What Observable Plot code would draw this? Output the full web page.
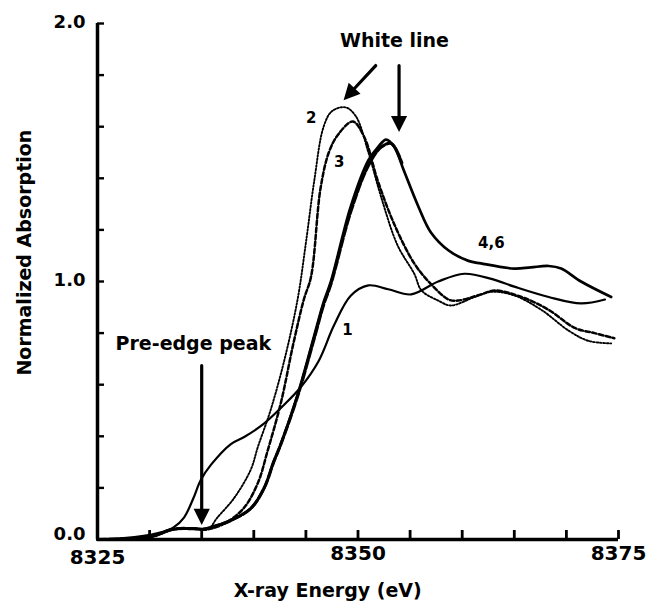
<!DOCTYPE html>
<html>
<head>
<meta charset="utf-8">
<script src="https://cdn.jsdelivr.net/npm/d3@7"></script>
<script src="https://cdn.jsdelivr.net/npm/@observablehq/plot@0.6"></script>
<style>
  html, body { margin: 0; padding: 0; background: #fff; }
</style>
</head>
<body>
<div id="chart"></div>
<script>
// ---- Axis ticks ----
const xMinorTicks = [8325, 8330, 8335, 8340, 8345, 8350, 8355, 8360, 8365, 8370, 8375];
const xTickLabels = [8325, 8350, 8375];
const yMinorTicks = [0.2, 0.4, 0.6, 0.8, 1.0, 1.2, 1.4, 1.6, 1.8, 2.0];
const yTickLabels = [0, 1, 2];
const xTitle = "X-ray Energy (eV)";
const yTitle = "Normalized Absorption";

// ---- Curve 1 (thin solid) ----
const e1 = [8325, 8327.5, 8330.8, 8332.3, 8333.3, 8334.2, 8334.9, 8335.9, 8337.8, 8339.2, 8341.0, 8342.6, 8344.5, 8346.2, 8347.7, 8349.3, 8351.0, 8352.9, 8355.1, 8357.7, 8360.2, 8362.8, 8365.0, 8368.3, 8371.4, 8373.7];
const a1 = [0.00, 0.005, 0.025, 0.047, 0.085, 0.16, 0.23, 0.29, 0.37, 0.40, 0.45, 0.51, 0.59, 0.69, 0.83, 0.945, 0.985, 0.97, 0.95, 1.0, 1.03, 1.01, 0.98, 0.94, 0.915, 0.93];

// ---- Curve 2 (dotted) ----
const e2 = [8325, 8330, 8331.5, 8332.3, 8334.2, 8335.6, 8336.5, 8338.1, 8339.7, 8340.4, 8341.6, 8342.9, 8344.2, 8345.0, 8345.8, 8346.7, 8347.5, 8348.8, 8349.8, 8351.0, 8352.2, 8353.8, 8355.4, 8356.1, 8357.7, 8358.9, 8361.2, 8362.8, 8365.0, 8367.6, 8370.2, 8372.1, 8374.3];
const a2 = [0.00, 0.01, 0.03, 0.04, 0.042, 0.04, 0.085, 0.16, 0.27, 0.36, 0.50, 0.69, 0.93, 1.15, 1.39, 1.60, 1.66, 1.675, 1.64, 1.50, 1.33, 1.14, 1.03, 0.965, 0.926, 0.907, 0.94, 0.96, 0.946, 0.89, 0.81, 0.77, 0.76];

// ---- Curve 3 (dashed) ----
const e3 = [8325, 8330, 8332.3, 8334.2, 8335.6, 8337.1, 8339.0, 8340.4, 8341.3, 8342.6, 8343.8, 8344.8, 8345.5, 8346.4, 8347.2, 8348.1, 8349.5, 8350.6, 8351.9, 8353.5, 8355.4, 8357.0, 8358.7, 8359.6, 8361.8, 8363.1, 8365.7, 8368.3, 8370.8, 8372.7, 8374.6];
const a3 = [0.00, 0.01, 0.04, 0.042, 0.04, 0.06, 0.12, 0.22, 0.34, 0.53, 0.76, 0.93, 1.02, 1.36, 1.50, 1.57, 1.62, 1.56, 1.39, 1.22, 1.07, 0.99, 0.93, 0.926, 0.95, 0.965, 0.94, 0.89, 0.82, 0.80, 0.78];

// ---- Curve 4 (thick solid) ----
const e4 = [8325, 8330, 8332.3, 8334.2, 8335.2, 8335.9, 8337.8, 8339.7, 8341.0, 8341.9, 8342.6, 8344.2, 8345.8, 8346.7, 8347.4, 8349.3, 8351.0, 8351.9, 8352.7, 8353.5, 8354.4, 8355.8, 8357.0, 8358.7, 8360.6, 8361.8, 8365.0, 8366.6, 8368.3, 8369.5, 8371.4, 8374.3];
const a4 = [0.00, 0.01, 0.04, 0.042, 0.04, 0.047, 0.074, 0.12, 0.20, 0.30, 0.37, 0.56, 0.79, 0.92, 1.00, 1.29, 1.47, 1.52, 1.55, 1.52, 1.43, 1.29, 1.19, 1.12, 1.08, 1.07, 1.05, 1.055, 1.06, 1.05, 1.00, 0.94];

// ---- Curve 6 (thick long dash, overlapping 4) ----
const e6 = [8325, 8330, 8332.3, 8334.2, 8335.2, 8335.9, 8337.8, 8339.7, 8341.0, 8341.9, 8342.6, 8344.2, 8345.8, 8346.7, 8347.4, 8349.3, 8351.0, 8352.2, 8353.2, 8354.2];
const a6 = [0.00, 0.01, 0.04, 0.042, 0.04, 0.047, 0.074, 0.12, 0.20, 0.30, 0.37, 0.555, 0.78, 0.91, 0.99, 1.27, 1.45, 1.52, 1.535, 1.46];

// ---- Annotations ----
const curveLabels = [
  {text: "2", E: 8345.5, A: 1.632},
  {text: "3", E: 8348.2, A: 1.461},
  {text: "1", E: 8349.0, A: 0.81},
  {text: "4,6", E: 8362.8, A: 1.147}
];
const noteLabels = [
  {text: "White line", E: 8353.5, A: 1.934},
  {text: "Pre-edge peak", E: 8334.2, A: 0.76}
];
const arrows = [
  {E1: 8351.7, A1: 1.837, E2: 8348.85, A2: 1.713},
  {E1: 8353.94, A1: 1.837, E2: 8353.94, A2: 1.593},
  {E1: 8335.0, A1: 0.674, E2: 8335.0, A2: 0.07}
];
const titles = [
  {text: xTitle, E: 8347.1, A: -0.198, rotate: 0},
  {text: yTitle, E: 8318.0, A: 1.112, rotate: -90}
];

// ---- Layout ----
const W = 648, H = 604, ML = 97, MR = 30, MT = 23, MB = 65;
const xDomain = [8325, 8375], yDomain = [0, 2];
const pxPerX = (W - ML - MR) / (xDomain[1] - xDomain[0]);
const pxPerY = (H - MT - MB) / (yDomain[1] - yDomain[0]);
const tickLenY = 9 / pxPerY;   // inward x-axis tick, in y units
const tickLenX = 7 / pxPerX;   // inward y-axis tick, in x units

const toRows = (E, A) => E.map((e, i) => ({E: e, A: A[i]}));

const filledArrow = {
  draw(context, l) {
    const h = 11, w = 5.5;
    context.moveTo(0, 0);
    context.lineTo(0, -(l - h));
    context.moveTo(-w, -(l - h));
    context.lineTo(0, -l);
    context.lineTo(w, -(l - h));
    context.closePath();
  }
};

function arrowMarks(useVector) {
  if (!useVector) {
    return [Plot.arrow(arrows, {x1: "E1", y1: "A1", x2: "E2", y2: "A2", stroke: "#000", strokeWidth: 3.5, headLength: 13, headAngle: 55})];
  }
  return arrows.map(a => {
    const dx = (a.E2 - a.E1) * pxPerX;
    const dy = -(a.A2 - a.A1) * pxPerY;
    const len = Math.hypot(dx, dy);
    const ang = Math.atan2(dx, -dy) * 180 / Math.PI;
    return Plot.vector([a], {x: "E1", y: "A1", anchor: "start", length: len, rotate: ang,
      shape: filledArrow, stroke: "#000", fill: "#000", strokeWidth: 3.2, strokeLinejoin: "miter"});
  });
}

function build(useVector) {
  return Plot.plot({
    width: W, height: H,
    marginLeft: ML, marginRight: MR, marginTop: MT, marginBottom: MB,
    x: {domain: xDomain, label: null},
    y: {domain: yDomain, label: null},
    style: {
      fontFamily: "'DejaVu Sans', sans-serif",
      fontWeight: "bold",
      fontSize: "19px",
      background: "#fff",
      color: "#000",
      overflow: "visible"
    },
    marks: [
      Plot.axisX({ticks: xTickLabels.slice(0, 1), tickSize: 0, tickPadding: 10, fontSize: 20, tickFormat: d => String(d), label: null}),
      Plot.axisX({ticks: xTickLabels.slice(1), tickSize: 0, tickPadding: 6, fontSize: 20, tickFormat: d => String(d), label: null}),
      Plot.axisY({ticks: yTickLabels.slice(0, 1), tickSize: 0, tickPadding: 12, fontSize: 18, dy: -5, tickFormat: d => d.toFixed(1), label: null}),
      Plot.axisY({ticks: yTickLabels.slice(1), tickSize: 0, tickPadding: 12, fontSize: 18, dy: -1, tickFormat: d => d.toFixed(1), label: null}),
      Plot.ruleX([xDomain[0]], {y1: yDomain[0], y2: yDomain[1], strokeWidth: 3.5}),
      Plot.ruleY([yDomain[0]], {x1: xDomain[0], x2: xDomain[1], strokeWidth: 3.5}),
      Plot.ruleX(xMinorTicks, {x: d => d, y1: () => yDomain[0], y2: () => tickLenY, stroke: "#000", strokeWidth: 2.8}),
      Plot.ruleY(yMinorTicks, {y: d => d, x1: xDomain[0], x2: xDomain[0] + tickLenX, strokeWidth: 2.4}),

      Plot.line(toRows(e1, a1), {x: "E", y: "A", curve: "catmull-rom", stroke: "#000", strokeWidth: 2.2}),
      Plot.line(toRows(e2, a2), {x: "E", y: "A", curve: "catmull-rom", stroke: "#000", strokeWidth: 1.9, strokeDasharray: "1.6,1.8"}),
      Plot.line(toRows(e3, a3), {x: "E", y: "A", curve: "catmull-rom", stroke: "#000", strokeWidth: 2.5, strokeDasharray: "4.5,2.5"}),
      Plot.line(toRows(e6, a6), {x: "E", y: "A", curve: "catmull-rom", stroke: "#000", strokeWidth: 3.2, strokeDasharray: "9,2.5"}),
      Plot.line(toRows(e4, a4), {x: "E", y: "A", curve: "catmull-rom", stroke: "#000", strokeWidth: 2.7}),

      Plot.text(curveLabels, {x: "E", y: "A", text: "text", fontSize: 15, fontWeight: "bold"}),
      Plot.text(noteLabels, {x: "E", y: "A", text: "text", fontSize: 19, fontWeight: "bold"}),
      ...arrowMarks(useVector),
      Plot.text(titles, {x: "E", y: "A", text: "text", rotate: "rotate", fontSize: 19, fontWeight: "bold"})
    ]
  });
}

let chart;
try { chart = build(true); } catch (err) { chart = build(false); }
document.getElementById("chart").appendChild(chart);
</script>
</body>
</html>
